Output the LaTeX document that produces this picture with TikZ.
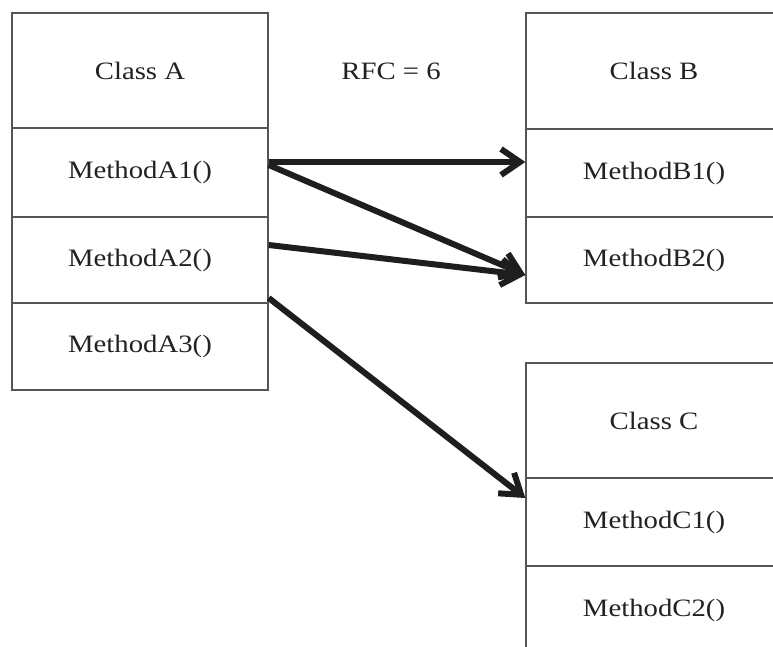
\documentclass[tikz,border=0pt]{standalone}
\usepackage{fontspec}
\setmainfont[FakeStretch=1.15]{Liberation Serif}
\usetikzlibrary{arrows.meta}
\definecolor{boxline}{HTML}{555555}
\definecolor{ink}{HTML}{222222}
\definecolor{arrowink}{HTML}{1E1E1E}
\begin{document}
\begin{tikzpicture}[x=1pt,y=-1pt,
  cell/.style={draw=boxline, line width=1.4pt, rectangle, inner sep=0pt,
    minimum width=256pt, text=ink, font=\fontsize{25}{30}\selectfont},
  call/.style={draw=arrowink, line width=6pt,
    -{Straight Barb[length=19pt,width=26pt]}}]
\useasboundingbox (0,0) rectangle (773,647);
\clip (0,0) rectangle (773,647);
\fill[white] (0,0) rectangle (773,647);

% Class A
\node[cell, minimum height=115pt] (A)  at (140,70.5)  {Class A};
\node[cell, minimum height=89pt]  (A1) at (140,172.5) {MethodA1()};
\node[cell, minimum height=86pt]  (A2) at (140,260)   {MethodA2()};
\node[cell, minimum height=87pt]  (A3) at (140,346.5) {MethodA3()};

% Class B
\node[cell, minimum height=116pt] (B)  at (654,71)  {Class B};
\node[cell, minimum height=88pt]  (B1) at (654,173) {MethodB1()};
\node[cell, minimum height=86pt]  (B2) at (654,260) {MethodB2()};

% Class C
\node[cell, minimum height=115pt] (C)  at (654,420.5) {Class C};
\node[cell, minimum height=88pt]  (C1) at (654,522)   {MethodC1()};
\node[cell, minimum height=88pt]  (C2) at (654,610)   {MethodC2()};

% Response-for-class count
\node[text=ink, font=\fontsize{25}{30}\selectfont] (rfc) at (391,71) {RFC = 6};

% Method calls
\draw[call] ([yshift=10.5pt]A1.east) -- ([yshift=11pt]B1.west);
\draw[call] ([yshift=7.5pt]A1.east) -- ([yshift=-15pt]B2.west);
\draw[call] ([yshift=15pt]A2.east) -- ([yshift=-15pt]B2.west);
\draw[call] ([yshift=-38pt]A2.east) -- ([yshift=24pt]C1.west);
\end{tikzpicture}
\end{document}
